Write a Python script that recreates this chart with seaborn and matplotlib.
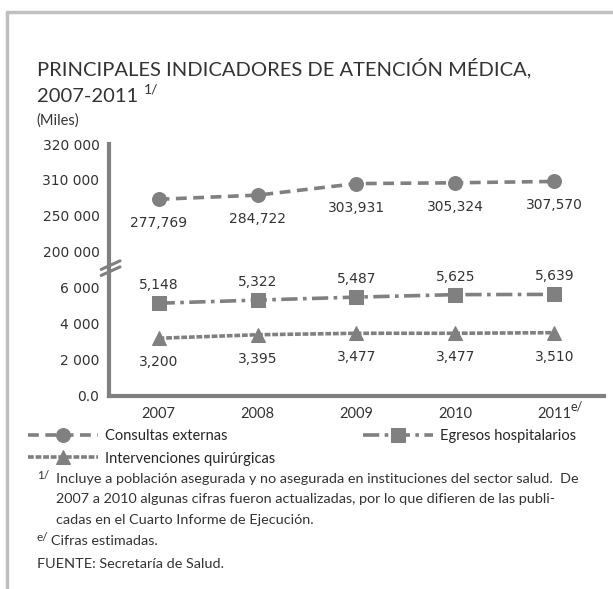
import matplotlib
matplotlib.use("Agg")
import matplotlib.pyplot as plt
import seaborn as sns
import pandas as pd
import numpy as np

# Datos (miles)
anios = ["2007", "2008", "2009", "2010", "2011"]
consultas = [277769, 284722, 303931, 305324, 307570]
egresos = [5148, 5322, 5487, 5625, 5639]
intervenciones = [3200, 3395, 3477, 3477, 3510]

# Eje y quebrado: cada marca ocupa el mismo espacio
y_ticks = [0, 2000, 4000, 6000, 200000, 250000, 310000, 320000]
y_tick_labels = ["0.0", "2 000", "4 000", "6 000", "200 000", "250 000", "310 000", "320 000"]

gris = "#808080"
texto = "#333333"
fuente = ["Lato", "DejaVu Sans"]

sns.set_style("white")
plt.rcParams["font.family"] = ["DejaVu Sans"]

df = pd.DataFrame({"x": np.arange(len(anios)), "consultas": consultas,
                   "egresos": egresos, "intervenciones": intervenciones})

fig = plt.figure(figsize=(6.13, 5.89), dpi=100)
ax = fig.add_axes([0.178, 0.328, 0.807, 0.4275])

pos = np.arange(len(y_ticks))
ax.set_yscale("function", functions=(lambda v: np.interp(v, y_ticks, pos),
                                     lambda p: np.interp(p, pos, y_ticks)))

sns.lineplot(data=df, x="x", y="consultas", ax=ax, color=gris, lw=2.6,
             linestyle=(0, (3.0, 1.8)), marker="o", markersize=10,
             markeredgecolor=gris, label="Consultas externas")
sns.lineplot(data=df, x="x", y="egresos", ax=ax, color=gris, lw=2.6,
             linestyle=(0, (4.5, 1.5, 1.0, 1.5)), marker="s", markersize=9.5,
             markeredgecolor=gris, label="Egresos hospitalarios")
sns.lineplot(data=df, x="x", y="intervenciones", ax=ax, color=gris, lw=2.6,
             linestyle=(0, (1.6, 0.5)), marker="^", markersize=10,
             markeredgecolor=gris, label="Intervenciones quirúrgicas")

# Etiquetas de datos
for i in range(len(anios)):
    ax.annotate(f"{consultas[i]:,}", (i, consultas[i]), xytext=(0, -24),
                textcoords="offset pixels", ha="center", va="center",
                fontsize=10, color=texto)
    ax.annotate(f"{egresos[i]:,}", (i, egresos[i]), xytext=(0, 18),
                textcoords="offset pixels", ha="center", va="center",
                fontsize=10, color=texto)
    ax.annotate(f"{intervenciones[i]:,}", (i, intervenciones[i]), xytext=(0, -24),
                textcoords="offset pixels", ha="center", va="center",
                fontsize=10, color=texto)

ax.set_ylim(0, 320000)
ax.set_yticks(y_ticks)
ax.set_yticklabels(y_tick_labels, fontsize=10, color=texto)
ax.set_xlim(-0.5, len(anios) - 0.5)
ax.set_xticks(np.arange(len(anios)))
ax.set_xticklabels(anios, fontsize=10.5, color=texto, family=fuente)
ax.set_xticks(np.arange(len(anios)) + 0.5, minor=True)
ax.tick_params(axis="x", which="major", length=0, pad=8)
ax.tick_params(axis="x", which="minor", length=4, width=2.5, color=gris)
ax.tick_params(axis="y", length=4, width=2.5, color=gris, pad=3)
ax.set_xlabel("")
ax.set_ylabel("")
for s in ["top", "right"]:
    ax.spines[s].set_visible(False)
for s in ["left", "bottom"]:
    ax.spines[s].set_color(gris)
    ax.spines[s].set_linewidth(3)
ax.grid(False)
ax.get_legend().remove()

# Marca de quiebre del eje
for dy in (0.0, 0.024):
    ax.plot([-0.016, 0.022], [0.478 + dy, 0.512 + dy], transform=ax.transAxes,
            color=gris, lw=2.2, clip_on=False)

# "e/" del 2011
ax.annotate("e/", (4, 0), xycoords=("data", "axes fraction"), xytext=(16, -11),
            textcoords="offset pixels", fontsize=9, color=texto, family=fuente,
            ha="left", va="center")

# Leyenda (fila 1: Consultas, Egresos; fila 2: Intervenciones)
h, l = ax.get_legend_handles_labels()
orden = [0, 2, 1]
fig.legend([h[i] for i in orden], [l[i] for i in orden], ncol=2, loc="upper left",
           bbox_to_anchor=(0.045, 0.272), frameon=False, borderpad=0, borderaxespad=0,
           handlelength=4.8, handletextpad=0.5, columnspacing=6.0, labelspacing=0.6,
           prop={"family": fuente, "size": 10.5})

# Títulos
fig.text(0.06, 0.885, "PRINCIPALES INDICADORES DE ATENCIÓN MÉDICA,", fontsize=14.5,
         color=texto, family=fuente, va="center")
fig.text(0.06, 0.837, "2007-2011", fontsize=14.5, color=texto, family=fuente, va="center")
fig.text(0.234, 0.848, "1/", fontsize=10, color=texto, family=fuente, va="center")
fig.text(0.06, 0.796, "(Miles)", fontsize=10.5, color=texto, family=fuente, va="center")

# Notas
notas = [
    (0.091, 0.187, "Incluye a población asegurada y no asegurada en instituciones del sector salud.  De"),
    (0.091, 0.152, "2007 a 2010 algunas cifras fueron actualizadas, por lo que difieren de las publi-"),
    (0.091, 0.117, "cadas en el Cuarto Informe de Ejecución."),
    (0.083, 0.082, "Cifras estimadas."),
    (0.060, 0.042, "FUENTE: Secretaría de Salud."),
]
for x, y, t in notas:
    fig.text(x, y, t, fontsize=10.4, color=texto, family=fuente, va="center")
fig.text(0.060, 0.192, "1/", fontsize=8.5, color=texto, family=fuente, va="center")
fig.text(0.060, 0.087, "e/", fontsize=8.5, color=texto, family=fuente, va="center")

# Marco
fig.add_artist(plt.Line2D([0.011, 1.0], [0.979, 0.979], color="#c0c0c0", lw=2.5))
fig.add_artist(plt.Line2D([0.012, 0.012], [0.0, 0.979], color="#c0c0c0", lw=2.5))

fig.savefig("out.png", dpi=100, facecolor="white")
